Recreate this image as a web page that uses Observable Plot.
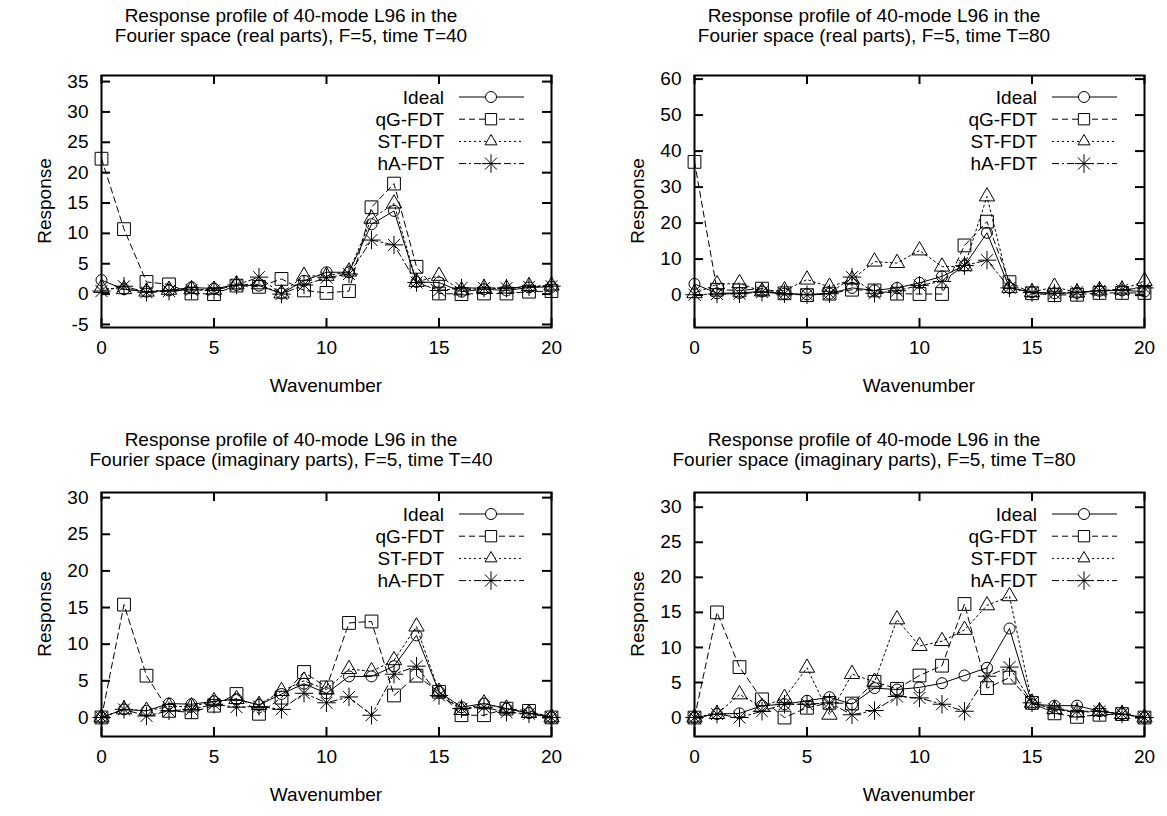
<!DOCTYPE html>
<html><head><meta charset="utf-8">
<script src="https://cdn.jsdelivr.net/npm/d3@7"></script>
<script src="https://cdn.jsdelivr.net/npm/@observablehq/plot@0.6"></script>
<style>
body{margin:0;background:#fff;}
#root{position:relative;width:1167px;height:816px;font-family:"Liberation Sans",Arial,sans-serif;color:#000;overflow:hidden;background:#fff}
.title{position:absolute;text-align:center;font-size:19px;line-height:20px;white-space:nowrap;transform:translateX(-50%)}
.lab{position:absolute;font-size:19px;line-height:20px;white-space:nowrap}
.panel{position:absolute}
</style></head><body><div id="root"></div>
<script>
// ---------------- data ----------------
const wavenumbers = [0,1,2,3,4,5,6,7,8,9,10,11,12,13,14,15,16,17,18,19,20];
const seriesNames = ["Ideal","qG-FDT","ST-FDT","hA-FDT"];
const xTicks = [0,5,10,15,20];

// real parts, T=40
const realT40_ideal = [2.3,0.8,0.4,0.6,1.1,0.9,1.5,1.4,0.1,2.2,3.6,3.6,11.5,13.7,2.0,1.9,0.4,0.8,0.6,1.1,1.2];
const realT40_qG    = [22.3,10.7,2.0,1.6,0.1,0.0,1.4,1.2,2.5,0.6,0.2,0.5,14.3,18.2,4.5,0.1,0.0,0.1,0.1,0.4,0.5];
const realT40_ST    = [1.0,0.8,0.4,0.7,0.8,0.7,1.6,1.6,0.1,3.0,3.0,3.7,12.4,14.9,2.0,3.0,0.6,1.0,0.9,1.3,1.4];
const realT40_hA    = [0.5,1.3,0.3,0.5,0.7,0.6,1.5,2.8,0.0,1.5,2.7,3.3,8.9,8.1,1.9,0.6,1.0,1.0,1.0,1.2,1.3];
const yTicksRealT40 = [-5,0,5,10,15,20,25,30,35];

// real parts, T=80
const realT80_ideal = [3.1,0.5,0.6,1.0,0.4,0.2,0.4,2.0,1.3,2.0,3.4,5.2,8.2,17.3,2.0,0.8,0.5,0.6,1.2,1.3,1.0];
const realT80_qG    = [37.0,1.5,1.3,1.8,0.5,0.0,0.4,1.5,1.3,0.4,0.3,0.3,13.8,20.4,3.6,0.5,0.0,0.1,0.6,0.6,0.6];
const realT80_ST    = [0.5,3.0,3.3,1.0,1.3,4.3,2.3,4.3,9.3,8.9,12.4,7.9,8.0,27.4,2.0,0.8,2.3,0.7,1.3,1.5,3.9];
const realT80_hA    = [0.1,0.3,0.4,0.8,0.4,0.1,0.4,5.0,0.5,1.2,2.7,3.8,8.2,9.7,2.0,0.7,0.5,0.8,1.2,1.5,2.0];
const yTicksRealT80 = [0,10,20,30,40,50,60];

// imaginary parts, T=40
const imagT40_ideal = [0,1.1,0.9,1.9,1.8,2.2,2.5,1.7,3.2,4.6,3.3,5.6,5.6,7.0,11.2,3.5,1.4,1.9,1.2,0.6,0];
const imagT40_qG    = [0,15.4,5.7,0.9,0.7,1.6,3.2,0.5,2.7,6.2,4.1,12.9,13.1,3.0,5.7,3.5,0.3,0.3,1.2,0.9,0];
const imagT40_ST    = [0,1.1,0.9,1.5,1.5,2.2,2.5,1.7,3.6,5.0,3.8,6.6,6.3,7.8,12.4,3.5,1.0,1.9,1.2,0.6,0];
const imagT40_hA    = [0,1.1,0.2,0.9,1.1,1.8,1.4,1.5,1.1,3.3,2.0,2.8,0.3,5.9,7.0,3.0,1.2,1.4,0.7,0.5,0];
const yTicksImagT40 = [0,5,10,15,20,25,30];

// imaginary parts, T=80
const imagT80_ideal = [0,0.5,0.6,1.7,1.9,2.4,2.9,1.9,4.2,4.0,4.3,4.9,6.0,7.1,12.7,1.9,1.7,1.7,0.9,0.5,0];
const imagT80_qG    = [0,15.0,7.2,2.6,0.0,1.4,2.1,2.0,5.1,4.1,6.0,7.4,16.2,4.2,5.7,2.1,0.6,0.1,0.4,0.5,0];
const imagT80_ST    = [0,0.5,3.3,1.5,2.8,7.1,0.4,6.2,5.1,14.0,10.2,10.9,12.5,16.0,17.3,2.1,1.2,0.7,0.9,0.5,0];
const imagT80_hA    = [0,0.5,0.0,0.9,1.9,1.9,2.1,0.4,1.0,3.0,2.8,1.9,0.9,5.9,7.2,2.1,1.2,0.9,0.9,0.5,0];
const yTicksImagT80 = [0,5,10,15,20,25,30];

// ---------------- styles & layout ----------------
const styles = {
  "Ideal":  {dash:null,      marks:[{symbol:"circle", r:5.5, d3:d3.symbolCircle}]},
  "qG-FDT": {dash:"6,4",     marks:[{symbol:"square", r:7.2, d3:d3.symbolSquare2}]},
  "ST-FDT": {dash:"2,3",     marks:[{symbol:"triangle", r:5.7, d3:d3.symbolTriangle2}]},
  "hA-FDT": {dash:"7,3,2,3", marks:[{symbol:"plus", r:6, d3:d3.symbolPlus},{symbol:"times", r:5.5, d3:d3.symbolTimes}]}
};

const panels = [
  {title:["Response profile of 40-mode L96 in the","Fourier space (real parts), F=5, time T=40"],
   cx:291, ty:6, fx:101, fy:75, fh:252, domain:[-5.5,36], ticks:yTicksRealT40,
   series:[realT40_ideal,realT40_qG,realT40_ST,realT40_hA]},
  {title:["Response profile of 40-mode L96 in the","Fourier space (real parts), F=5, time T=80"],
   cx:874, ty:6, fx:694, fy:75, fh:252, domain:[-9,61], ticks:yTicksRealT80,
   series:[realT80_ideal,realT80_qG,realT80_ST,realT80_hA]},
  {title:["Response profile of 40-mode L96 in the","Fourier space (imaginary parts), F=5, time T=40"],
   cx:291, ty:430, fx:101, fy:492, fh:244, domain:[-2.6,30.7], ticks:yTicksImagT40,
   series:[imagT40_ideal,imagT40_qG,imagT40_ST,imagT40_hA]},
  {title:["Response profile of 40-mode L96 in the","Fourier space (imaginary parts), F=5, time T=80"],
   cx:874, ty:430, fx:694, fy:492, fh:244, domain:[-2.7,32.1], ticks:yTicksImagT80,
   series:[imagT80_ideal,imagT80_qG,imagT80_ST,imagT80_hA]}
];

const root = document.getElementById("root");
const FW = 450, mL = 60, mR = 12, mT = 12, mB = 40, TK = 9;
const fmt = d => String(d);

for (const p of panels) {
  const FH = p.fh;
  const marks = [
    Plot.axisX(xTicks, {anchor:"bottom", tickSize:0, tickPadding:13, tickFormat:fmt, label:null}),
    Plot.axisY(p.ticks, {anchor:"left", tickSize:0, tickPadding:13, tickFormat:fmt, label:null}),
    Plot.tickX(xTicks, {x:d=>d, insetTop:FH-TK, strokeWidth:2}),
    Plot.tickX(xTicks, {x:d=>d, insetBottom:FH-TK, strokeWidth:2}),
    Plot.tickY(p.ticks, {y:d=>d, insetRight:FW-TK, strokeWidth:2}),
    Plot.tickY(p.ticks, {y:d=>d, insetLeft:FW-TK, strokeWidth:2})
  ];
  seriesNames.forEach((name, i) => {
    const st = styles[name];
    const rows = wavenumbers.map((k, j) => ({k, v: p.series[i][j]}));
    marks.push(Plot.line(rows, {x:"k", y:"v", stroke:"#000", strokeWidth:1, strokeDasharray:st.dash}));
    for (const m of st.marks) {
      marks.push(Plot.dot(rows, {x:"k", y:"v", symbol:()=>m.symbol, r:m.r, stroke:"#000", fill:"none", strokeWidth:1}));
    }
  });
  marks.push(Plot.frame({stroke:"#000", strokeWidth:2}));

  const chart = Plot.plot({
    width: FW + mL + mR, height: FH + mT + mB,
    marginLeft: mL, marginRight: mR, marginTop: mT, marginBottom: mB,
    style: {fontFamily:"'Liberation Sans', Arial, sans-serif", fontSize:"19px", color:"#000", background:"transparent", overflow:"visible"},
    x: {domain:[0,20]},
    y: {domain:p.domain},
    symbol: {type:"identity"},
    marks
  });
  chart.classList.add("panel");
  chart.style.left = (p.fx - mL) + "px";
  chart.style.top = (p.fy - mT) + "px";
  root.appendChild(chart);

  // title
  const t = document.createElement("div");
  t.className = "title";
  t.style.left = p.cx + "px";
  t.style.top = p.ty + "px";
  t.innerHTML = p.title[0] + "<br>" + p.title[1];
  root.appendChild(t);

  // axis labels
  const xl = document.createElement("div");
  xl.className = "lab";
  xl.textContent = "Wavenumber";
  xl.style.left = (p.fx + FW/2) + "px";
  xl.style.top = (p.fy + FH + 49) + "px";
  xl.style.transform = "translateX(-50%)";
  root.appendChild(xl);

  const yl = document.createElement("div");
  yl.className = "lab";
  yl.textContent = "Response";
  yl.style.left = (p.fx - 56) + "px";
  yl.style.top = (p.fy + FH/2) + "px";
  yl.style.transform = "translate(-50%,-50%) rotate(-90deg)";
  root.appendChild(yl);

  // legend
  const lg = d3.select(root).append("svg")
    .attr("width", 240).attr("height", 110)
    .style("position","absolute")
    .style("left", (p.fx + FW - 240) + "px")
    .style("top", p.fy + "px")
    .style("overflow","visible");
  seriesNames.forEach((name, i) => {
    const st = styles[name];
    const y = 22 + i * 22.2;
    lg.append("text").attr("x", 240 - 107).attr("y", y).attr("dy","0.36em")
      .attr("text-anchor","end").attr("font-size",19)
      .attr("font-family","'Liberation Sans', Arial, sans-serif").text(name);
    lg.append("line").attr("x1", 240 - 92).attr("x2", 240 - 27).attr("y1", y).attr("y2", y)
      .attr("stroke","#000").attr("stroke-width",1).attr("stroke-dasharray", st.dash);
    for (const m of st.marks) {
      lg.append("path").attr("transform", `translate(${240-60},${y})`)
        .attr("d", d3.symbol(m.d3, Math.PI*m.r*m.r)())
        .attr("fill","#fff").attr("stroke","#000").attr("stroke-width",1);
    }
  });
}
</script>
</body></html>
